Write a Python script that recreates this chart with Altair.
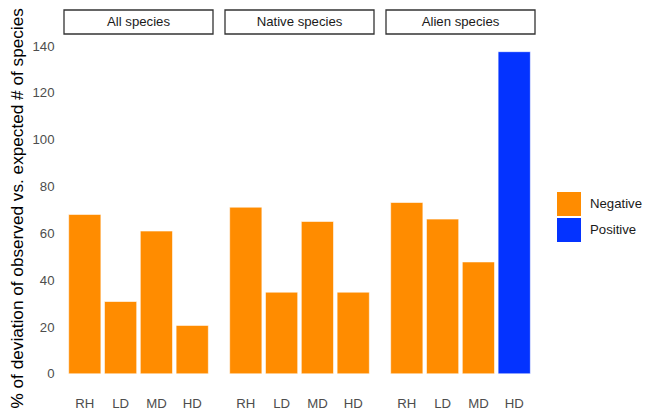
import altair as alt
import pandas as pd

groups = ["All species", "Native species", "Alien species"]
habitats = ["RH", "LD", "MD", "HD"]
all_vals = [68.1, 30.9, 61.0, 20.7]
native_vals = [71.2, 34.9, 65.1, 34.9]
alien_vals = [73.2, 66.1, 47.8, 137.6]
all_dir = ["Negative", "Negative", "Negative", "Negative"]
native_dir = ["Negative", "Negative", "Negative", "Negative"]
alien_dir = ["Negative", "Negative", "Negative", "Positive"]
y_ticks = [0, 20, 40, 60, 80, 100, 120, 140]
directions = ["Negative", "Positive"]
colors = ["#FF8C00", "#0433FF"]

rows = []
for g, vals, dirs in zip(groups, [all_vals, native_vals, alien_vals],
                         [all_dir, native_dir, alien_dir]):
    for h, v, d in zip(habitats, vals, dirs):
        rows.append({"group": g, "habitat": h, "value": v, "direction": d})
df = pd.DataFrame(rows)

W = 149
H = 354
FONT = "Liberation Sans"
LBL = 13.2

base = alt.Chart()

bars = base.mark_bar(stroke="white", strokeWidth=0.6).encode(
    x=alt.X("habitat:N", sort=habitats, title=None,
            scale=alt.Scale(paddingInner=0.1, paddingOuter=0.13),
            axis=alt.Axis(labelAngle=0, ticks=False, domain=False, labelPadding=7,
                          labelFontSize=LBL, labelColor="#4D4D4D", labelFont=FONT)),
    y=alt.Y("value:Q",
            title="% of deviation of observed vs. expected # of species",
            scale=alt.Scale(domain=[-6.9, 144.3], nice=False),
            axis=alt.Axis(values=y_ticks, ticks=False, domain=False, grid=False,
                          labelPadding=9, labelFontSize=LBL, labelColor="#4D4D4D",
                          labelFont=FONT, titleFont=FONT, titleFontSize=17.2,
                          titleFontWeight="normal", titleColor="#000000",
                          titlePadding=5, titleAlign="left", titleY=372)),
    color=alt.Color("direction:N",
                    scale=alt.Scale(domain=directions, range=colors),
                    legend=alt.Legend(title=None, orient="none", legendX=493, legendY=156,
                                      symbolType="square", symbolSize=576,
                                      symbolStrokeWidth=0, symbolOpacity=1,
                                      labelFontSize=LBL, labelFont=FONT,
                                      labelColor="#1A1A1A", labelOffset=9,
                                      rowPadding=2)),
)

strip_rect = base.transform_aggregate(
    n="count()", groupby=["group"]
).mark_rect(fill="white", stroke="#333333", strokeWidth=1.3).encode(
    x=alt.value(0), x2=alt.value(W), y=alt.value(-26), y2=alt.value(-2)
)

strip_text = base.transform_aggregate(
    n="count()", groupby=["group"]
).mark_text(fontSize=LBL, font=FONT, color="#1A1A1A", baseline="middle",
            align="center").encode(
    x=alt.value(W / 2), y=alt.value(-14), text="group:N"
)

chart = alt.layer(bars, strip_rect, strip_text, data=df).properties(
    width=W, height=H
).facet(
    column=alt.Column("group:N", sort=groups, title=None,
                      header=alt.Header(labels=False, title=None)),
    spacing=10,
).properties(
    padding={"left": 0, "top": -1, "right": 5, "bottom": 5},
    background="white",
).configure_view(stroke=None)

chart.save("out.html", embed_options={"renderer": "svg", "actions": False})
